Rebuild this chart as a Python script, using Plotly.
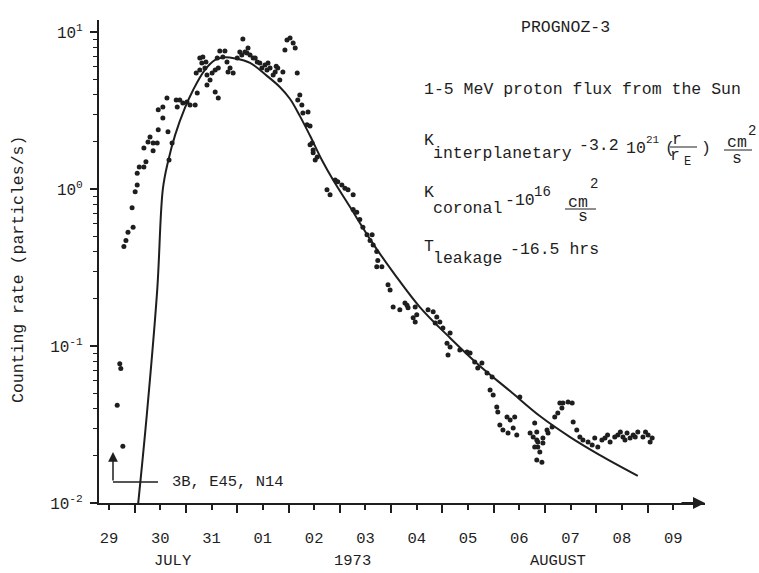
import plotly.graph_objects as go

# Time axis: day number counted from July (Aug 1 = 32), counting rate in particles/s
t_day = [
    29.71, 29.73, 29.66, 29.77,
    29.79, 29.83, 29.87, 29.97, 29.95, 30.01, 30.05, 30.05, 30.09, 30.18, 30.22, 30.18,
    30.26, 30.30, 30.36, 30.36, 30.44, 30.46, 30.65, 30.55, 30.46, 30.55, 30.63, 30.73,
    30.67, 30.81, 30.88, 30.83, 30.94, 31.02, 31.08, 31.18, 31.22, 31.20, 31.27, 31.31,
    31.27, 31.33, 31.39, 31.41, 31.47, 31.51, 31.57, 31.57, 31.63, 31.61, 31.66, 31.76,
    31.72, 31.82, 31.80, 31.37, 31.41, 31.63, 31.86, 31.92, 32.00, 32.05, 32.11, 32.15,
    32.21, 32.25, 32.31, 32.39, 32.44, 32.48, 32.54, 32.58, 32.64, 32.70, 32.74, 32.79,
    32.83, 32.89, 32.93, 32.97, 33.03, 33.09, 33.13, 33.17, 33.22, 33.18, 33.26, 33.28,
    33.38, 33.36, 33.46, 33.48, 32.09, 32.19, 32.35, 32.60, 32.76,
    33.42, 33.42, 33.48, 33.52, 33.56, 33.91, 33.96, 34.04, 34.10, 34.16, 33.75, 33.81,
    34.26, 34.26, 34.33, 34.39, 34.45, 34.53, 34.63, 34.59, 34.65, 34.72, 34.74, 34.82,
    34.72, 34.94, 34.98, 35.04, 35.17, 35.27, 35.33, 35.47,
    35.31, 35.43, 35.50, 35.47, 35.72, 35.82, 35.89, 35.95, 35.86, 36.01, 36.15, 36.09,
    36.15, 36.11, 36.34, 36.48, 36.54, 36.63, 36.69, 36.77, 36.87, 36.97, 36.93, 36.99,
    37.06, 37.08, 37.26, 37.32, 37.41, 37.12, 37.18, 37.28, 37.45, 37.38, 37.51, 37.71,
    37.77, 37.84, 37.80, 37.86, 37.90, 37.96, 38.04, 37.84, 37.94,
    37.84, 37.86, 37.80, 37.96, 38.06, 38.14, 38.19, 38.25, 38.33, 38.29, 38.35, 38.45,
    38.53, 38.55, 38.62, 38.68, 38.74, 38.84, 38.92, 38.97, 39.03, 39.11, 39.17, 39.27,
    39.36, 39.42, 39.52, 39.60, 39.66, 39.72, 39.81, 39.91, 40.01, 40.09, 40.05,
    39.47, 39.76, 39.96, 39.56, 39.22,
]
rate = [
    0.077, 0.072, 0.042, 0.023,
    0.43, 0.47, 0.53, 0.57, 0.76, 0.96, 1.06, 1.26, 1.38, 1.38, 1.49, 1.82,
    1.99, 2.14, 1.75, 1.96, 1.96, 2.38, 2.31, 2.83, 3.19, 3.33, 3.80, 1.96,
    1.53, 3.69, 3.69, 3.33, 3.53, 3.58, 3.43, 3.43, 4.09, 5.48, 5.73, 6.35,
    6.83, 6.93, 6.44, 4.60, 4.95, 5.48, 5.73, 4.15, 3.80, 6.83, 7.57, 7.57,
    6.93, 5.56, 6.44, 5.90, 5.32, 5.90, 5.90, 5.48, 6.83, 7.46, 9.03, 7.46,
    7.91, 7.14, 6.83, 6.44, 6.35, 5.90, 6.16, 5.73, 5.90, 5.32, 5.56, 5.90,
    4.95, 5.56, 7.68, 8.89, 9.16, 8.51, 7.91, 5.48, 3.97, 3.69, 3.43, 3.05,
    3.09, 2.56, 1.96, 1.77, 7.14, 7.35, 6.83, 6.35, 6.05,
    2.52, 1.91, 1.70, 1.53, 1.60, 1.14, 1.11, 1.06, 1.01, 0.99, 0.99, 0.92,
    0.92, 0.74, 0.71, 0.64, 0.57, 0.51, 0.51, 0.47, 0.44, 0.40, 0.35, 0.32,
    0.32, 0.245, 0.227, 0.177, 0.170, 0.188, 0.175, 0.177,
    0.182, 0.151, 0.158, 0.142, 0.170, 0.165, 0.153, 0.142, 0.140, 0.130, 0.121, 0.104,
    0.0985, 0.0877, 0.0943, 0.0916, 0.0903, 0.0791, 0.0724, 0.0779, 0.0673, 0.0635, 0.0524, 0.0488,
    0.0409, 0.0380, 0.0353, 0.0338, 0.0353, 0.0314, 0.0292, 0.0279, 0.0271, 0.0300, 0.0473, 0.0279,
    0.0263, 0.0252, 0.0323, 0.0227, 0.0211, 0.0241, 0.0292, 0.0188, 0.0182,
    0.0283, 0.0245, 0.0227, 0.0259, 0.0279, 0.0305, 0.0353, 0.0374, 0.0403, 0.0434, 0.0434, 0.0440,
    0.0434, 0.0328, 0.0292, 0.0263, 0.0252, 0.0245, 0.0234, 0.0259, 0.0227, 0.0252, 0.0259, 0.0245,
    0.0263, 0.0271, 0.0263, 0.0279, 0.0259, 0.0271, 0.0283, 0.0263, 0.0271, 0.0259, 0.0245,
    0.0283, 0.0263, 0.0283, 0.0252, 0.0271,
]

# Diffusion model curve
t_model = [30.07, 30.24, 30.44, 30.55, 30.65, 30.79, 30.98, 31.14, 31.37, 31.57, 31.74,
           31.96, 32.25, 32.58, 32.83, 33.03, 33.22, 33.42, 33.65, 33.87, 34.20, 34.65,
           35.08, 35.56, 36.15, 36.73, 37.32, 37.90, 38.49, 39.07, 39.81]
rate_model = [0.010, 0.0374, 0.227, 1.0, 1.49, 2.21, 3.28, 4.27, 5.73, 6.63, 6.90,
              6.78, 6.35, 5.25, 4.46, 3.74, 2.92, 2.18, 1.53, 1.14, 0.767, 0.447,
              0.283, 0.177, 0.1125, 0.0746, 0.0516, 0.0358, 0.0263, 0.0202, 0.0149]

# Axis ticks: labels at noon, long ticks at midnight
day_label_pos = [29.5 + i for i in range(12)]
day_labels = ["29", "30", "31", "01", "02", "03", "04", "05", "06", "07", "08", "09"]
midnights = [30 + i for i in range(11)]
decades = [0.01, 0.1, 1, 10]
decade_labels = ["10<sup>-2</sup>", "10<sup>-1</sup>", "10<sup>0</sup>", "10<sup>1</sup>"]
minor_y = [m * d for d in [0.01, 0.1, 1] for m in range(2, 10)]

W, H = 759, 573
L, R, T, B = 99, 54, 20, 70
PW, PH = W - L - R, H - T - B
FONT = "Liberation Mono"
INK = "#1e1e1e"


def px(x):
    return (x - L) / PW


def py(y):
    return (H - B - y) / PH


fig = go.Figure()
fig.add_trace(go.Scatter(x=t_day, y=rate, mode="markers",
                         marker=dict(size=5, color=INK), showlegend=False))
fig.add_trace(go.Scatter(x=t_model, y=rate_model, mode="lines",
                         line=dict(color=INK, width=2, shape="spline", smoothing=1),
                         showlegend=False))

ann = []


def text(s, x, y, size=16.5, anchor="left"):
    ann.append(dict(text=s, x=px(x), y=py(y), xref="paper", yref="paper",
                    xanchor=anchor, yanchor="middle", showarrow=False,
                    font=dict(family=FONT, size=size, color=INK)))


text("PROGNOZ-3", 565, 28, anchor="center")
text("1-5 MeV proton flux from the Sun", 422, 90)
text("K", 422, 140)
text("interplanetary", 431, 153)
text("-3.2", 577, 145)
text("10", 624, 148)
text("21", 644, 140, size=11)
text("(", 663, 148)
text("r", 677, 139, anchor="center")
text("r", 675, 155, anchor="center")
text("E", 682, 162, size=12)
text(")", 699, 148)
text("cm", 725, 142)
text("2", 746, 131, size=14)
text("s", 737, 158, anchor="center")
text("K", 422, 192)
text("coronal", 431, 209)
text("-10", 503, 201)
text("16", 532, 192, size=14)
text("cm", 566, 202)
text("2", 588, 184, size=14)
text("s", 583, 217, anchor="center")
text("T", 422, 247)
text("leakage", 431, 258)
text("-16.5 hrs", 508, 249)
text("3B, E45, N14", 170, 482, size=15.5)
text("JULY", 173, 561, size=15.5, anchor="center")
text("1973", 352, 561, size=15.5, anchor="center")
text("AUGUST", 558, 561, size=15.5, anchor="center")

ann.append(dict(text="Counting rate (particles/s)", x=px(18), y=py(270),
                xref="paper", yref="paper", textangle=-90, showarrow=False,
                xanchor="center", yanchor="middle",
                font=dict(family=FONT, size=16.5, color=INK)))

# flare marker arrow
ann.append(dict(text="", x=px(113), y=py(452), xref="paper", yref="paper",
                ax=0, ay=30, showarrow=True, arrowhead=2, arrowsize=1.3,
                arrowwidth=1.5, arrowcolor=INK))
# arrowhead at end of time axis
ann.append(dict(text="", x=1.0, y=0.0, xref="paper", yref="paper",
                ax=-25, ay=0, showarrow=True, arrowhead=2, arrowsize=1.2,
                arrowwidth=2, arrowcolor=INK))

shapes = [
    dict(type="line", xref="paper", yref="paper", x0=px(113), x1=px(158),
         y0=py(482), y1=py(482), line=dict(color=INK, width=1.5)),
    dict(type="line", xref="paper", yref="paper", x0=px(670), x1=px(697),
         y0=py(147), y1=py(147), line=dict(color=INK, width=1)),
    dict(type="line", xref="paper", yref="paper", x0=px(724), x1=px(752),
         y0=py(150), y1=py(150), line=dict(color=INK, width=1)),
    dict(type="line", xref="paper", yref="paper", x0=px(565), x1=px(596),
         y0=py(209), y1=py(209), line=dict(color=INK, width=1)),
]

fig.update_layout(
    width=W, height=H,
    margin=dict(l=L, r=R, t=T, b=B),
    paper_bgcolor="white", plot_bgcolor="white",
    annotations=ann, shapes=shapes,
    font=dict(family=FONT, color=INK),
    xaxis=dict(range=[29.305, 41.12], tickmode="array", tickvals=day_label_pos,
               ticktext=day_labels, ticks="outside", ticklen=5, tickwidth=1.5,
               tickcolor=INK, showline=True, linewidth=2, linecolor=INK,
               showgrid=False, zeroline=False, ticklabelstandoff=14,
               tickfont=dict(family=FONT, size=15.5, color=INK),
               minor=dict(tickmode="array", tickvals=midnights, ticks="outside",
                          ticklen=8, tickwidth=1.5, tickcolor=INK, showgrid=False)),
    yaxis=dict(type="log", range=[-2, 1.076], tickmode="array", tickvals=decades,
               ticktext=decade_labels, ticks="outside", ticklen=7, tickwidth=1.5,
               tickcolor=INK, showline=True, linewidth=2, linecolor=INK,
               showgrid=False, zeroline=False, ticklabelstandoff=4,
               tickfont=dict(family=FONT, size=16, color=INK),
               minor=dict(tickmode="array", tickvals=minor_y, ticks="outside",
                          ticklen=4, tickwidth=1.2, tickcolor=INK, showgrid=False)),
)

fig.write_html("out.html")
